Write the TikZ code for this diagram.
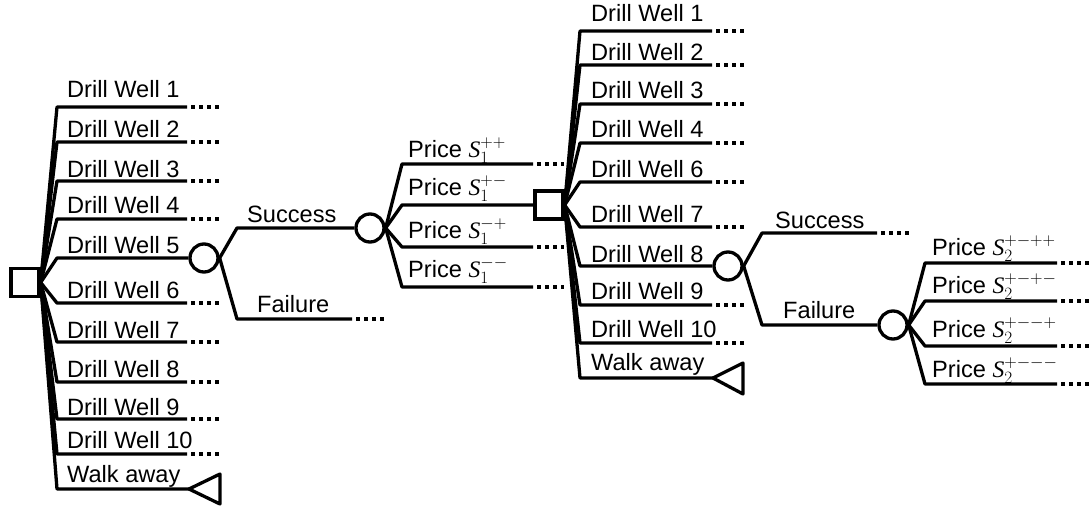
\documentclass[tikz,border=0pt]{standalone}
\usepackage{fontspec}
\setmainfont{Liberation Sans}
\newfontfamily\symfont{Liberation Serif}
\newcommand{\Sv}{{\symfont\itshape S}}
\begin{document}
\begin{tikzpicture}[x=1pt,y=-1pt,
  br/.style={line width=3.3pt, line join=round},
  dotline/.style={line width=3.3pt, dash pattern=on 4pt off 4pt, dash phase=4pt},
  decision/.style={draw, line width=3.3pt, rectangle, minimum size=28pt, inner sep=0pt},
  chance/.style={draw, line width=3.3pt, circle, minimum size=28pt, inner sep=0pt},
  lbl/.style={anchor=base west, inner sep=0pt, font=\fontsize{23.6}{28}\selectfont}]
\useasboundingbox (0,0) rectangle (1091,508);

% ---------- first decision ----------
\node[decision] (D1) at (25,282.5) {};
\foreach \n/\y/\b in {1/107/98, 2/142/137, 3/181/177, 4/219/213, 6/303/298, 7/342/338, 8/382/377, 9/419/415, 10/454/448}{
  \coordinate (La\n) at (57,\y);
  \coordinate (Ea\n) at (187,\y);
  \coordinate (Ta\n) at (220,\y);
  \draw[br] (D1.east) -- (La\n) -- (Ea\n);
  \draw[dotline] (Ea\n) -- (Ta\n);
  \node[lbl] (ta\n) at (67,\b) {Drill Well \n};
}
\node[chance] (C1) at (204,258) {};
\coordinate (La5) at (57,258);
\draw[br] (D1.east) -- (La5) -- (C1.west);
\node[lbl] (ta5) at (67,253) {Drill Well 5};
% walk away
\coordinate (Lw1) at (57,489);
\coordinate (W1) at (189,489);
\draw[br] (D1.east) -- (Lw1) -- (W1);
\draw[br] (W1) -- ++(31,-15) -- ++(0,30) -- cycle;
\node[lbl] (tw1) at (67,482) {Walk away};

% ---------- success / failure ----------
\node[chance] (C2) at (370,228) {};
\coordinate (S1a) at (237,228);
\draw[br] (C1.east) -- (S1a) -- (C2.west);
\node[lbl] (ts1) at (247,222) {Success};
\coordinate (F1a) at (237,319);
\coordinate (F1b) at (352,319);
\coordinate (F1c) at (385,319);
\draw[br] (C1.east) -- (F1a) -- (F1b);
\draw[dotline] (F1b) -- (F1c);
\node[lbl] (tf1) at (257,312) {Failure};

% ---------- price S1 ----------
\node[decision] (D2) at (549,205) {};
\foreach \k/\y/\b/\s in {a/164/157/{++}, c/247/238/{-+}, d/287/277/{--}}{
  \coordinate (Pa\k) at (402,\y);
  \coordinate (Pb\k) at (533,\y);
  \coordinate (Pc\k) at (564,\y);
  \draw[br] (C2.east) -- (Pa\k) -- (Pb\k);
  \draw[dotline] (Pb\k) -- (Pc\k);
  \node[lbl] (tp\k) at (408,\b) {Price \Sv$_1^{\s}$};
}
\coordinate (Pab) at (402,205);
\draw[br] (C2.east) -- (Pab) -- (D2.west);
\node[lbl] (tpb) at (408,195) {Price \Sv$_1^{+-}$};

% ---------- second decision ----------
\foreach \n/\y/\b in {1/31/22, 2/65/61, 3/104/99, 4/143/137, 6/182/177, 7/227/222, 9/305/299, 10/343/337}{
  \coordinate (Lb\n) at (580,\y);
  \coordinate (Eb\n) at (712,\y);
  \coordinate (Tb\n) at (745,\y);
  \draw[br] (D2.east) -- (Lb\n) -- (Eb\n);
  \draw[dotline] (Eb\n) -- (Tb\n);
  \node[lbl] (tb\n) at (591,\b) {Drill Well \n};
}
\node[chance] (C3) at (728,266) {};
\coordinate (Lb8) at (580,266);
\draw[br] (D2.east) -- (Lb8) -- (C3.west);
\node[lbl] (tb8) at (591,262) {Drill Well 8};
\coordinate (Lw2) at (580,378);
\coordinate (W2) at (713,378);
\draw[br] (D2.east) -- (Lw2) -- (W2);
\draw[br] (W2) -- ++(30,-15) -- ++(0,31) -- cycle;
\node[lbl] (tw2) at (591,370) {Walk away};

% ---------- second success / failure ----------
\coordinate (S2a) at (762,233);
\coordinate (S2b) at (877,233);
\coordinate (S2c) at (910,233);
\draw[br] (C3.east) -- (S2a) -- (S2b);
\draw[dotline] (S2b) -- (S2c);
\node[lbl] (ts2) at (775,228) {Success};
\node[chance] (C4) at (893,325) {};
\coordinate (F2a) at (762,325);
\draw[br] (C3.east) -- (F2a) -- (C4.west);
\node[lbl] (tf2) at (783,318) {Failure};

% ---------- price S2 ----------
\foreach \k/\y/\b/\s in {a/263/255/{+-++}, b/301/293/{+-+-}, c/346/337/{+--+}, d/384/377/{+---}}{
  \coordinate (Qa\k) at (925,\y);
  \coordinate (Qb\k) at (1057,\y);
  \coordinate (Qc\k) at (1091,\y);
  \draw[br] (C4.east) -- (Qa\k) -- (Qb\k);
  \draw[dotline] (Qb\k) -- (Qc\k);
  \node[lbl] (tq\k) at (932,\b) {Price \Sv$_2^{\s}$};
}
\end{tikzpicture}
\end{document}
